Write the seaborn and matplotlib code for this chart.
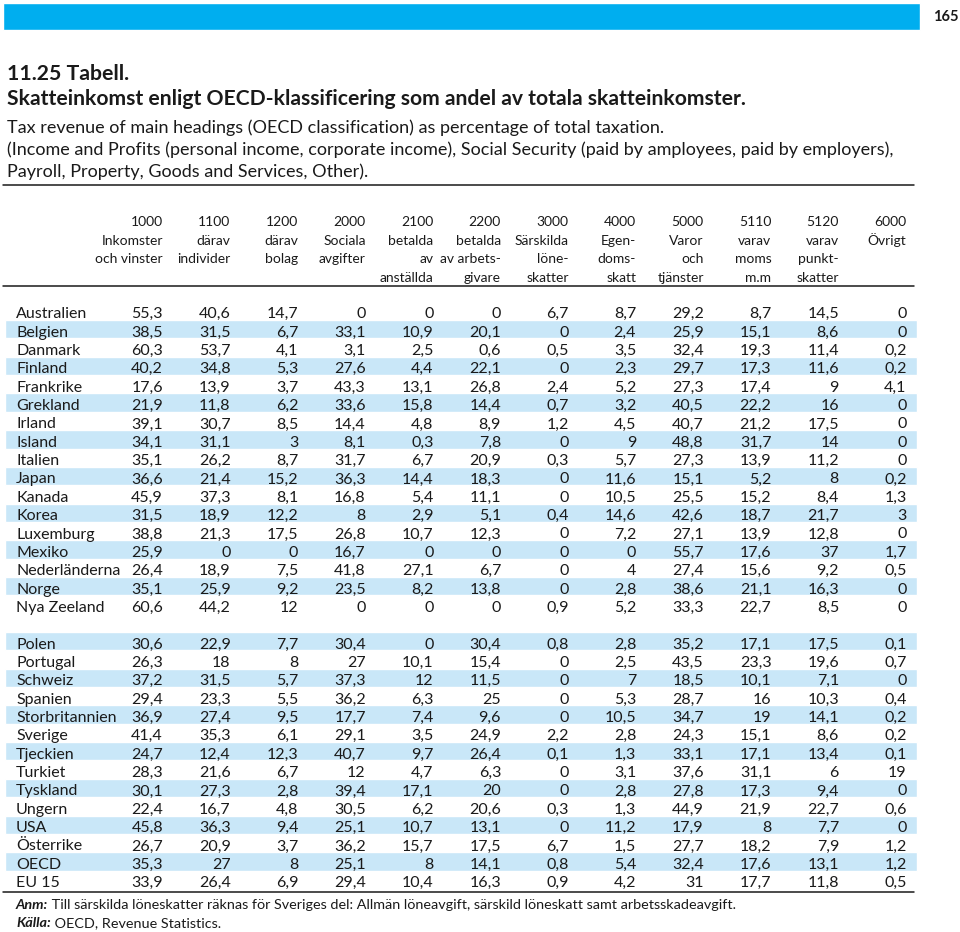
import pandas as pd
import matplotlib.pyplot as plt
import seaborn as sns

# Tabell 11.25 - skatteinkomst enligt OECD-klassificering (procent av totala skatteinkomster)
countries_a = ["Australien", "Belgien", "Danmark", "Finland", "Frankrike", "Grekland", "Irland",
               "Island", "Italien", "Japan", "Kanada", "Korea", "Luxemburg", "Mexiko",
               "Nederländerna", "Norge", "Nya Zeeland"]
countries_b = ["Polen", "Portugal", "Schweiz", "Spanien", "Storbritannien", "Sverige", "Tjeckien",
               "Turkiet", "Tyskland", "Ungern", "USA", "Österrike", "OECD", "EU 15"]

c1000 = [55.3, 38.5, 60.3, 40.2, 17.6, 21.9, 39.1, 34.1, 35.1, 36.6, 45.9, 31.5, 38.8, 25.9, 26.4, 35.1, 60.6,
         30.6, 26.3, 37.2, 29.4, 36.9, 41.4, 24.7, 28.3, 30.1, 22.4, 45.8, 26.7, 35.3, 33.9]
c1100 = [40.6, 31.5, 53.7, 34.8, 13.9, 11.8, 30.7, 31.1, 26.2, 21.4, 37.3, 18.9, 21.3, 0, 18.9, 25.9, 44.2,
         22.9, 18, 31.5, 23.3, 27.4, 35.3, 12.4, 21.6, 27.3, 16.7, 36.3, 20.9, 27, 26.4]
c1200 = [14.7, 6.7, 4.1, 5.3, 3.7, 6.2, 8.5, 3, 8.7, 15.2, 8.1, 12.2, 17.5, 0, 7.5, 9.2, 12,
         7.7, 8, 5.7, 5.5, 9.5, 6.1, 12.3, 6.7, 2.8, 4.8, 9.4, 3.7, 8, 6.9]
c2000 = [0, 33.1, 3.1, 27.6, 43.3, 33.6, 14.4, 8.1, 31.7, 36.3, 16.8, 8, 26.8, 16.7, 41.8, 23.5, 0,
         30.4, 27, 37.3, 36.2, 17.7, 29.1, 40.7, 12, 39.4, 30.5, 25.1, 36.2, 25.1, 29.4]
c2100 = [0, 10.9, 2.5, 4.4, 13.1, 15.8, 4.8, 0.3, 6.7, 14.4, 5.4, 2.9, 10.7, 0, 27.1, 8.2, 0,
         0, 10.1, 12, 6.3, 7.4, 3.5, 9.7, 4.7, 17.1, 6.2, 10.7, 15.7, 8, 10.4]
c2200 = [0, 20.1, 0.6, 22.1, 26.8, 14.4, 8.9, 7.8, 20.9, 18.3, 11.1, 5.1, 12.3, 0, 6.7, 13.8, 0,
         30.4, 15.4, 11.5, 25, 9.6, 24.9, 26.4, 6.3, 20, 20.6, 13.1, 17.5, 14.1, 16.3]
c3000 = [6.7, 0, 0.5, 0, 2.4, 0.7, 1.2, 0, 0.3, 0, 0, 0.4, 0, 0, 0, 0, 0.9,
         0.8, 0, 0, 0, 0, 2.2, 0.1, 0, 0, 0.3, 0, 6.7, 0.8, 0.9]
c4000 = [8.7, 2.4, 3.5, 2.3, 5.2, 3.2, 4.5, 9, 5.7, 11.6, 10.5, 14.6, 7.2, 0, 4, 2.8, 5.2,
         2.8, 2.5, 7, 5.3, 10.5, 2.8, 1.3, 3.1, 2.8, 1.3, 11.2, 1.5, 5.4, 4.2]
c5000 = [29.2, 25.9, 32.4, 29.7, 27.3, 40.5, 40.7, 48.8, 27.3, 15.1, 25.5, 42.6, 27.1, 55.7, 27.4, 38.6, 33.3,
         35.2, 43.5, 18.5, 28.7, 34.7, 24.3, 33.1, 37.6, 27.8, 44.9, 17.9, 27.7, 32.4, 31]
c5110 = [8.7, 15.1, 19.3, 17.3, 17.4, 22.2, 21.2, 31.7, 13.9, 5.2, 15.2, 18.7, 13.9, 17.6, 15.6, 21.1, 22.7,
         17.1, 23.3, 10.1, 16, 19, 15.1, 17.1, 31.1, 17.3, 21.9, 8, 18.2, 17.6, 17.7]
c5120 = [14.5, 8.6, 11.4, 11.6, 9, 16, 17.5, 14, 11.2, 8, 8.4, 21.7, 12.8, 37, 9.2, 16.3, 8.5,
         17.5, 19.6, 7.1, 10.3, 14.1, 8.6, 13.4, 6, 9.4, 22.7, 7.7, 7.9, 13.1, 11.8]
c6000 = [0, 0, 0.2, 0.2, 4.1, 0, 0, 0, 0, 0.2, 1.3, 3, 0, 1.7, 0.5, 0, 0,
         0.1, 0.7, 0, 0.4, 0.2, 0.2, 0.1, 19, 0, 0.6, 0, 1.2, 1.2, 0.5]

headers = [
    ["1000", "Inkomster", "och vinster"],
    ["1100", "därav", "individer"],
    ["1200", "därav", "bolag"],
    ["2000", "Sociala", "avgifter"],
    ["2100", "betalda", "av", "anställda"],
    ["2200", "betalda", "av arbets-", "givare"],
    ["3000", "Särskilda", "löne-", "skatter"],
    ["4000", "Egen-", "doms-", "skatt"],
    ["5000", "Varor", "och", "tjänster"],
    ["5110", "varav", "moms", "m.m"],
    ["5120", "varav", "punkt-", "skatter"],
    ["6000", "Övrigt"],
]

df = pd.DataFrame({"1000": c1000, "1100": c1100, "1200": c1200, "2000": c2000, "2100": c2100,
                   "2200": c2200, "3000": c3000, "4000": c4000, "5000": c5000, "5110": c5110,
                   "5120": c5120, "6000": c6000},
                  index=countries_a + countries_b)

sns.set_theme(style="white")
plt.rcParams["font.family"] = ["Lato", "DejaVu Sans"]

BLUE = "#00AEEF"
STRIPE = "#C9E7F8"
TXT = "#1a1a1a"


def fmt(v):
    return str(int(v)) if float(v).is_integer() else str(v).replace(".", ",")


fig = plt.figure(figsize=(9.6, 9.32), dpi=100)
ax = fig.add_axes([0, 0, 1, 1])
ax.set_xlim(0, 960)
ax.set_ylim(932, 0)
ax.axis("off")

# top banner + page number
ax.barh(16, 917, left=3, height=27, color=BLUE)
ax.text(946, 17, "165", fontsize=10.5, fontweight="bold", ha="center", va="center", color=TXT)

# titles
ax.text(7, 80, "11.25 Tabell.", fontsize=15.3, fontweight="bold", color=TXT)
ax.text(7, 105, "Skatteinkomst enligt OECD-klassificering som andel av totala skatteinkomster.",
        fontsize=15.2, fontweight="bold", color=TXT)
sub = ["Tax revenue of main headings (OECD classification) as percentage of total taxation.",
       "(Income and Profits (personal income, corporate income), Social Security (paid by amployees, paid by employers),",
       "Payroll, Property, Goods and Services, Other)."]
for i, s in enumerate(sub):
    ax.text(7, 133 + i * 22, s, fontsize=13.0, color=TXT)

ax.plot([3, 914], [185, 185], color=TXT, lw=1.1)
ax.plot([3, 914], [286, 286], color=TXT, lw=1.1)
ax.plot([3, 914], [892, 892], color=TXT, lw=1.1)

# column positions (right edges)
col_x = [163 + i * 67.6 for i in range(len(df.columns))]
pitch = 18.35

for j, lines in enumerate(headers):
    for k, s in enumerate(lines):
        ax.text(col_x[j], 226.5 + k * pitch, s, fontsize=10, ha="right", va="baseline", color=TXT)

# rows: two groups with a blank row between
row_pos = list(range(len(countries_a))) + [len(countries_a) + 1 + i for i in range(len(countries_b))]
striped = [i % 2 == 1 for i in range(len(countries_a))] + \
          [i % 2 == 0 and i < len(countries_b) - 1 for i in range(len(countries_b))]

for r, (name, row) in enumerate(df.iterrows()):
    base = 318.3 + row_pos[r] * pitch
    if striped[r]:
        ax.barh(base - 7.4, 912, left=5, height=pitch, color=STRIPE, zorder=0)
    ax.text(16, base, name, fontsize=11.5, va="baseline", color=TXT)
    for j, v in enumerate(row.values):
        ax.text(col_x[j], base, fmt(v), fontsize=11.5, ha="right", va="baseline", color=TXT)

# notes
t1 = ax.text(16, 909, "Anm:", fontsize=10.35, fontweight="bold", style="italic", color=TXT)
ax.annotate(" Till särskilda löneskatter räknas för Sveriges del: Allmän löneavgift, särskild löneskatt samt arbetsskadeavgift.",
            xy=(1, 0), xycoords=t1, va="bottom", fontsize=10.35, color=TXT)
t2 = ax.text(16, 927, "Källa:", fontsize=10.35, fontweight="bold", style="italic", color=TXT)
ax.annotate(" OECD, Revenue Statistics.", xy=(1, 0), xycoords=t2, va="bottom", fontsize=10.35, color=TXT)

fig.savefig("out.png", dpi=100)
